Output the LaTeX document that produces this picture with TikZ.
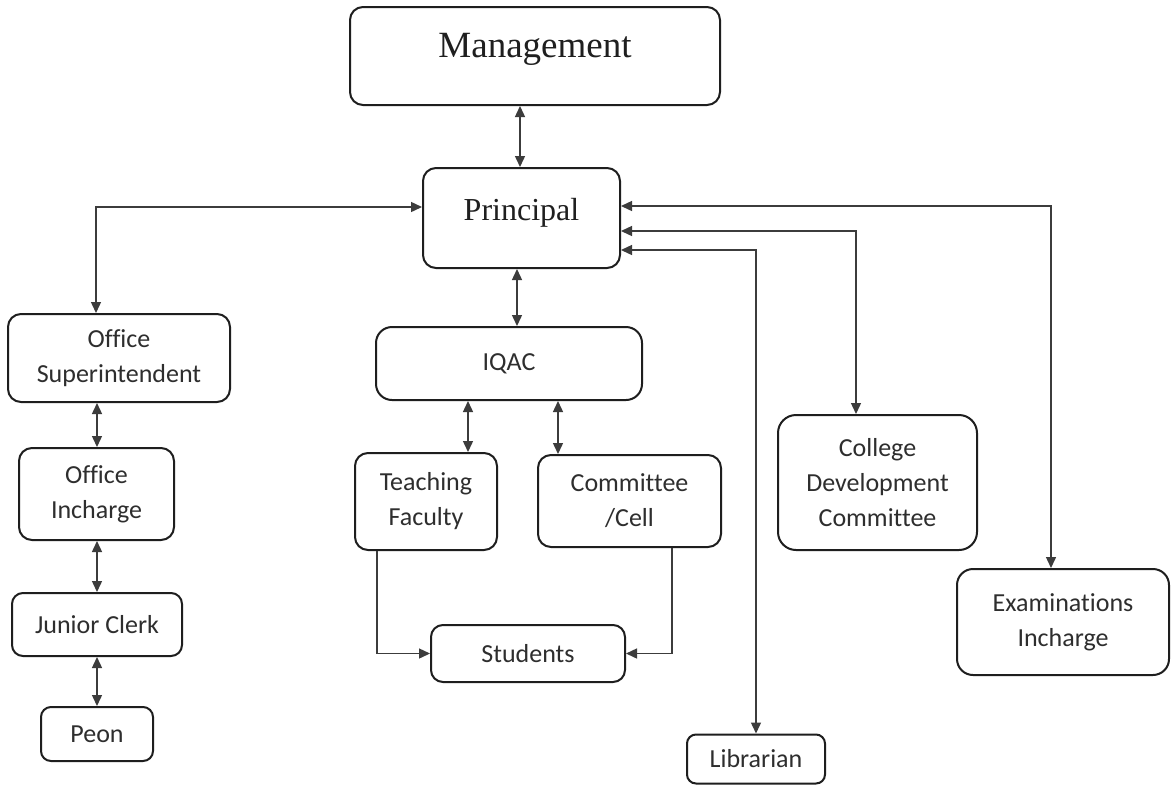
\documentclass[tikz,border=0pt]{standalone}
\usepackage{fontspec}
\setmainfont{Liberation Serif}
\newfontfamily\labelfont[Ligatures=NoCommon]{Carlito}
\usetikzlibrary{arrows.meta}
\definecolor{txt}{HTML}{2E2E2E}
\definecolor{edge}{HTML}{1E1E1E}
\definecolor{conn}{HTML}{3C3C3C}
\tikzset{
  box/.style={draw=edge, line width=2pt, rounded corners=13pt, fill=white,
    align=center, inner sep=0pt, text=txt,
    font=\labelfont\fontsize{26}{35}\selectfont},
  bigbox/.style={box, text=black!88},
  biarrow/.style={draw=conn, line width=1.4pt,
    {Triangle[length=11pt,width=10pt]}-{Triangle[length=11pt,width=10pt]}},
  onearrow/.style={draw=conn, line width=1.4pt, -{Triangle[length=11pt,width=10pt]}}
}
\begin{document}
\begin{tikzpicture}[x=1pt,y=-1pt]
\useasboundingbox[fill=white] (0,0) rectangle (1172,785);

\node[bigbox, minimum width=370, minimum height=98, text depth=22pt,
      font=\fontsize{37}{40}\selectfont] (mgmt) at (535,56) {Management};
\node[bigbox, minimum width=197, minimum height=100, text depth=18pt,
      font=\fontsize{32}{36}\selectfont] (prin) at (521.5,218) {Principal};

\node[box, minimum width=222, minimum height=88] (os) at (119,358) {Office\\Superintendent};
\node[box, minimum width=155, minimum height=92] (oi) at (96.5,494) {Office\\Incharge};
\node[box, minimum width=170, minimum height=63, rounded corners=11pt] (jc) at (97,624.5) {Junior Clerk};
\node[box, minimum width=112, minimum height=54, rounded corners=10pt] (peon) at (97,734) {Peon};

\node[box, minimum width=266, minimum height=73, rounded corners=16pt] (iqac) at (509,363.5) {IQAC};
\node[box, minimum width=142, minimum height=97] (tf) at (426,501.5) {Teaching\\Faculty};
\node[box, minimum width=183, minimum height=92] (cc) at (629.5,501) {Committee\\/Cell};
\node[box, minimum width=194, minimum height=57, rounded corners=12pt] (stu) at (528,653.5) {Students};

\node[box, minimum width=199, minimum height=135, rounded corners=18pt] (cdc) at (877.5,482.5) {College\\Development\\Committee};
\node[box, minimum width=212, minimum height=106, rounded corners=16pt] (exam) at (1063,622) {Examinations\\Incharge};
\node[box, minimum width=138, minimum height=49, rounded corners=9pt] (lib) at (756,759) {Librarian};

% vertical links
\draw[biarrow] ([xshift=-15pt]mgmt.south) -- ([xshift=-1.5pt]prin.north);
\draw[biarrow] ([xshift=-4.5pt]prin.south) -- ([xshift=8pt]iqac.north);
\draw[biarrow] ([xshift=-41pt]iqac.south) -- ([xshift=42pt]tf.north);
\draw[biarrow] ([xshift=49pt]iqac.south) -- ([xshift=-71.5pt]cc.north);
\draw[biarrow] ([xshift=-22pt]os.south) -- ([xshift=0.5pt]oi.north);
\draw[biarrow] ([xshift=0.5pt]oi.south) -- (jc.north);
\draw[biarrow] (jc.south) -- (peon.north);

% principal side links
\draw[biarrow] ([yshift=11pt]prin.west) -| ([xshift=-23pt]os.north);
\draw[biarrow] ([yshift=12pt]prin.east) -| ([xshift=-12pt]exam.north);
\draw[biarrow] ([yshift=-13pt]prin.east) -| ([xshift=-21.5pt]cdc.north);
\draw[biarrow] ([yshift=-32pt]prin.east) -| (lib.north);

% to students
\draw[onearrow] ([xshift=-49pt]tf.south) |- (stu.west);
\draw[onearrow] ([xshift=42.5pt]cc.south) |- (stu.east);
\end{tikzpicture}
\end{document}
